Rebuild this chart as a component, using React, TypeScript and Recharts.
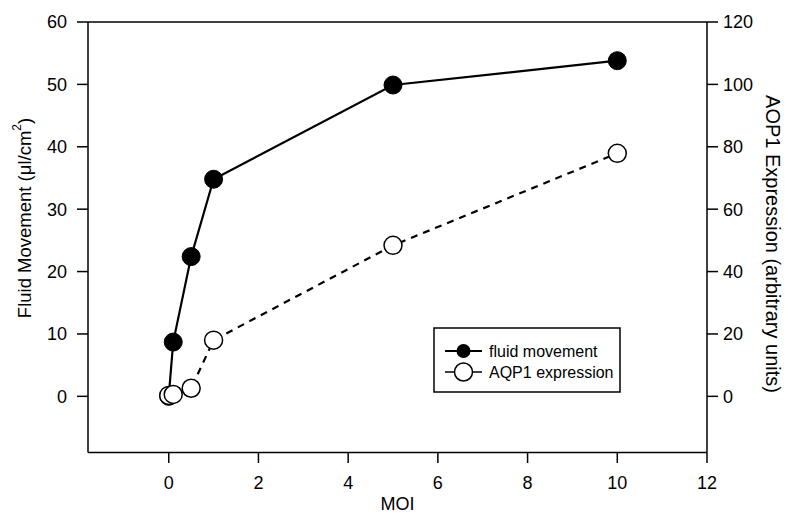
import React from "react";
import { LineChart, Line, XAxis, YAxis, ReferenceLine } from "recharts";

const moi = [0, 0.1, 0.5, 1, 5, 10];
const fluidMovement = [0, 8.7, 22.4, 34.8, 49.9, 53.8];
const aqp1Expression = [0.3, 0.6, 2.6, 18, 48.4, 77.9];

const xTicks = [0, 2, 4, 6, 8, 10, 12];
const leftTicks = [0, 10, 20, 30, 40, 50, 60];
const rightTicks = [0, 20, 40, 60, 80, 100, 120];
const seriesNames = ["fluid movement", "AQP1 expression"];

const data = moi.map((m, i) => ({ moi: m, fluid: fluidMovement[i], aqp1: aqp1Expression[i] }));

const FONT = "'Liberation Sans', Arial, sans-serif";
const tickStyle = { fill: "#000", fontSize: 18, fontFamily: FONT };

const LeftLabel = (props: any) => {
  const vb = props.viewBox;
  const cx = vb.x + 24;
  const cy = 218;
  return (
    <text x={cx} y={cy} transform={`rotate(-90 ${cx} ${cy})`} textAnchor="middle" dominantBaseline="central" fontSize={18.5} fontFamily={FONT} fill="#000">
      Fluid Movement (μl/cm<tspan dy={-7} fontSize={12}>2</tspan><tspan dy={7}>)</tspan>
    </text>
  );
};

const RightLabel = (props: any) => {
  const vb = props.viewBox;
  const cx = vb.x + 66;
  const cy = 244;
  return (
    <text x={cx} y={cy} transform={`rotate(90 ${cx} ${cy})`} textAnchor="middle" dominantBaseline="central" fontSize={20} fontFamily={FONT} fill="#000">
      AOP1 Expression (arbitrary units)
    </text>
  );
};

const BottomLabel = (props: any) => {
  const vb = props.viewBox;
  const cx = vb.x + vb.width / 2;
  const cy = vb.y + 51;
  return (
    <text x={cx} y={cy} textAnchor="middle" dominantBaseline="central" fontSize={18} fontFamily={FONT} fill="#000">
      MOI
    </text>
  );
};

const LegendBox = () => (
  <svg width={188} height={66} style={{ display: "block" }}>
    <rect x={1} y={1} width={186} height={64} fill="#fff" stroke="#000" strokeWidth={1.5} />
    <line x1={12} x2={49} y1={24} y2={24} stroke="#000" strokeWidth={2} />
    <circle cx={30.5} cy={24} r={7} fill="#000" />
    <text x={56} y={24} dominantBaseline="central" fontSize={16} fontFamily={FONT} fill="#000">{seriesNames[0]}</text>
    <line x1={12} x2={49} y1={45} y2={45} stroke="#000" strokeWidth={1.5} />
    <circle cx={30.5} cy={45} r={9} fill="#fff" stroke="#000" strokeWidth={1.5} />
    <text x={56} y={45} dominantBaseline="central" fontSize={16} fontFamily={FONT} fill="#000">{seriesNames[1]}</text>
  </svg>
);

export default function App() {
  return (
    <div style={{ position: "absolute", left: 0, top: 0, width: 788, height: 516, background: "#fff" }}>
      <LineChart width={788} height={516} data={data} margin={{ top: 22, right: 0, bottom: 0, left: 0 }}>
        <XAxis
          dataKey="moi"
          type="number"
          domain={[-1.8, 12]}
          ticks={xTicks}
          allowDataOverflow
          height={63.5}
          tickSize={10.5}
          tickMargin={13}
          tick={tickStyle}
          axisLine={{ stroke: "#000", strokeWidth: 1.5 }}
          tickLine={{ stroke: "#000", strokeWidth: 1.5 }}
          label={<BottomLabel />}
        />
        <YAxis
          yAxisId="left"
          domain={[-9, 60]}
          ticks={leftTicks}
          allowDataOverflow
          width={88}
          tickSize={11}
          tickMargin={10}
          tick={tickStyle}
          axisLine={{ stroke: "#000", strokeWidth: 1.5 }}
          tickLine={{ stroke: "#000", strokeWidth: 1.5 }}
          label={<LeftLabel />}
        />
        <YAxis
          yAxisId="right"
          orientation="right"
          domain={[-18, 120]}
          ticks={rightTicks}
          allowDataOverflow
          width={81}
          tickSize={11}
          tickMargin={5}
          tick={tickStyle}
          axisLine={{ stroke: "#000", strokeWidth: 1.5 }}
          tickLine={{ stroke: "#000", strokeWidth: 1.5 }}
          label={<RightLabel />}
        />
        <ReferenceLine yAxisId="left" y={60} stroke="#000" strokeWidth={1.5} />
        <Line
          yAxisId="left"
          dataKey="fluid"
          stroke="#000"
          strokeWidth={2.2}
          dot={{ r: 9, fill: "#000", stroke: "#000", strokeWidth: 1 }}
          isAnimationActive={false}
        />
        <Line
          yAxisId="right"
          dataKey="aqp1"
          stroke="#000"
          strokeWidth={2.2}
          strokeDasharray="7 6"
          dot={{ r: 9, fill: "#fff", stroke: "#000", strokeWidth: 1.5, strokeDasharray: "" }}
          isAnimationActive={false}
        />
      </LineChart>
      <div style={{ position: "absolute", left: 433, top: 327 }}>
        <LegendBox />
      </div>
    </div>
  );
}
